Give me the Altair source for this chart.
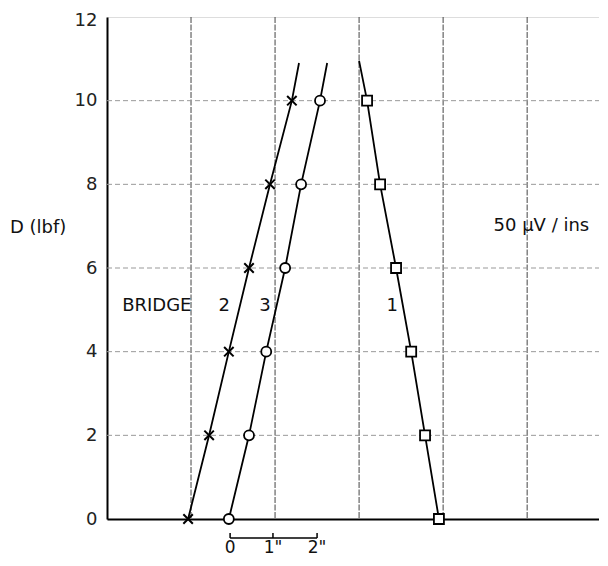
import altair as alt
import pandas as pd

# ---- data (x in chart units, 1 grid division = 2 units; D in lbf) ----
D_levels = [0, 2, 4, 6, 8, 10]
bridge2_x = [1.93, 2.43, 2.90, 3.38, 3.88, 4.40]
bridge3_x = [2.90, 3.38, 3.79, 4.24, 4.62, 5.07]
bridge1_x = [7.90, 7.57, 7.24, 6.88, 6.50, 6.19]

# where each drawn line ends above the last point
line_end_D = [10.9, 10.9, 10.95]
line_end_x = [4.57, 5.24, 6.00]  # bridge 2, 3, 1

grid_x = [2, 4, 6, 8, 10]
grid_y = [2, 4, 6, 8, 10]
y_ticks = [0, 2, 4, 6, 8, 10, 12]

scale_x = [2.93, 3.95, 5.00]
scale_labels = ["0", "1\"", "2\""]

labels_text = ["D (lbf)", "BRIDGE", "2", "3", "1", "50 \u03bcV / ins"]
labels_x = [-2.31, 0.36, 2.79, 3.76, 6.79, 9.20]
labels_D = [6.95, 5.10, 5.10, 5.10, 5.10, 7.00]
labels_align = ["left", "left", "center", "center", "center", "left"]

X_DOM = [0, 11.71]
Y_DOM = [0, 12]
FONT = "DejaVu Sans"
W, H = 492, 502

xs = alt.Scale(domain=X_DOM, nice=False, zero=False)
ys = alt.Scale(domain=Y_DOM, nice=False, zero=False)

rows = []
lines = []
for k, (name, xv) in enumerate([("2", bridge2_x), ("3", bridge3_x), ("1", bridge1_x)]):
    for i, (x, d) in enumerate(zip(xv, D_levels)):
        rows.append({"bridge": name, "x": x, "D": d, "order": i})
        lines.append({"bridge": name, "x": x, "D": d, "order": i})
    lines.append({"bridge": name, "x": line_end_x[k], "D": line_end_D[k], "order": 99})
pts = pd.DataFrame(rows)
lines_df = pd.DataFrame(lines)

base_x = alt.X("x:Q", scale=xs, axis=alt.Axis(labels=False, ticks=False, grid=False, title=None,
                                               domainColor="black", domainWidth=2))
base_y = alt.Y("D:Q", scale=ys, axis=alt.Axis(values=y_ticks, ticks=False, grid=False, title=None,
                                               domainColor="black", domainWidth=2,
                                               labelFontSize=18, labelPadding=10, labelFont=FONT,
                                               labelOffset=alt.ExprRef("datum.value == 12 ? 3 : 0"),
                                               labelColor="#222", labelFontWeight="normal"))

vgrid = alt.Chart(pd.DataFrame({"x": grid_x})).mark_rule(
    color="#444", strokeWidth=1, strokeDash=[6, 1.5]
).encode(x=alt.X("x:Q", scale=xs), y=alt.value(0), y2=alt.value(H))

hgrid = alt.Chart(pd.DataFrame({"D": grid_y})).mark_rule(
    color="#999", strokeWidth=1, strokeDash=[5, 3]
).encode(y=alt.Y("D:Q", scale=ys), x=alt.value(0), x2=alt.value(W))

line_layer = alt.Chart(lines_df).mark_line(color="black", strokeWidth=1.8).encode(
    x=base_x, y=base_y, detail="bridge:N", order="order:Q"
)

xmark = alt.Chart(pts[pts.bridge == "2"]).mark_point(
    shape="M-1,-1L1,1M-1,1L1,-1", filled=False, color="black", strokeWidth=2, size=90, opacity=1
).encode(x=alt.X("x:Q", scale=xs), y=alt.Y("D:Q", scale=ys))

circ = alt.Chart(pts[pts.bridge == "3"]).mark_point(
    shape="circle", filled=True, fill="white", stroke="black", strokeWidth=1.8, size=100, opacity=1
).encode(x=alt.X("x:Q", scale=xs), y=alt.Y("D:Q", scale=ys))

sq = alt.Chart(pts[pts.bridge == "1"]).mark_point(
    shape="square", filled=True, fill="white", stroke="black", strokeWidth=1.8, size=100, opacity=1
).encode(x=alt.X("x:Q", scale=xs), y=alt.Y("D:Q", scale=ys))

lab_df = pd.DataFrame({"t": labels_text, "x": labels_x, "D": labels_D, "a": labels_align})
texts = []
for al in ["left", "center"]:
    texts.append(alt.Chart(lab_df[lab_df.a == al]).mark_text(
        align=al, baseline="middle", fontSize=18, font=FONT, color="#111"
    ).encode(x=alt.X("x:Q", scale=xs), y=alt.Y("D:Q", scale=ys), text="t:N"))

sb_df = pd.DataFrame({"x": [scale_x[0]], "x2": [scale_x[-1]]})
sbar = alt.Chart(sb_df).mark_rule(color="black", strokeWidth=1.5).encode(
    x=alt.X("x:Q", scale=xs), x2="x2:Q", y=alt.value(H + 19)
)
sticks = alt.Chart(pd.DataFrame({"x": scale_x})).mark_rule(color="black", strokeWidth=1.5).encode(
    x=alt.X("x:Q", scale=xs), y=alt.value(H + 14), y2=alt.value(H + 19)
)
slabs = alt.Chart(pd.DataFrame({"x": scale_x, "t": scale_labels})).mark_text(
    align="center", baseline="bottom", fontSize=17, font=FONT, color="#111"
).encode(x=alt.X("x:Q", scale=xs), y=alt.value(H + 38), text="t:N")

chart = alt.layer(
    vgrid, hgrid, line_layer, xmark, circ, sq, *texts, sbar, sticks, slabs
).properties(
    width=W, height=H,
    autosize=alt.AutoSizeParams(type="none"),
    padding={"left": 99, "top": 9, "right": 0, "bottom": 39},
).configure_view(stroke=None).configure(background="white")

chart.save("out.html", embed_options={"renderer": "svg", "actions": False})
